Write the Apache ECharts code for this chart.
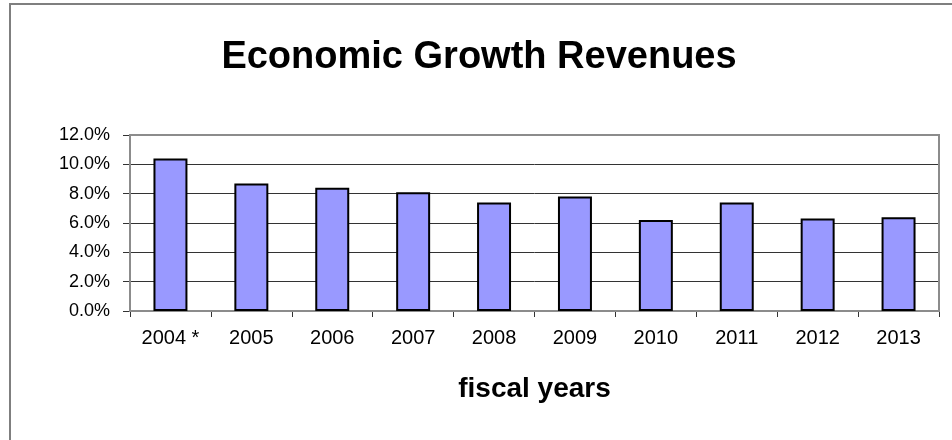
<!DOCTYPE html>
<html>
<head>
<meta charset="utf-8">
<script src="https://cdn.jsdelivr.net/npm/echarts@6/dist/echarts.min.js"></script>
<style>
  html, body { margin: 0; padding: 0; background: #fff; }
  #chart { width: 952px; height: 440px; }
</style>
</head>
<body>
<div id="chart"></div>
<script>
// Fiscal years on the category axis
const years = ['2004 *', '2005', '2006', '2007', '2008', '2009', '2010', '2011', '2012', '2013'];
// Growth rate of revenues, in percent
const growth = [10.4, 8.7, 8.4, 8.1, 7.4, 7.8, 6.2, 7.4, 6.3, 6.4];
// Value axis range and step, in percent
const yMin = 0;
const yMax = 12;
const yStep = 2;

const FONT = '"Liberation Sans", Arial, sans-serif';

const chart = echarts.init(document.getElementById('chart'), null, { renderer: 'canvas' });

chart.setOption({
  animation: false,
  backgroundColor: '#ffffff',
  title: {
    text: 'Economic Growth Revenues',
    left: 474,
    textAlign: 'center',
    top: 34,
    textStyle: { fontFamily: FONT, fontSize: 38, fontWeight: 'bold', color: '#000' }
  },
  graphic: [
    {
      type: 'rect',
      shape: { x: 10, y: 4, width: 1000, height: 500 },
      style: { fill: 'none', stroke: '#7f7f7f', lineWidth: 2 },
      silent: true,
      z: 0
    },
    {
      type: 'rect',
      shape: { x: 130, y: 135, width: 809, height: 176 },
      style: { fill: 'none', stroke: '#8c8c8c', lineWidth: 2 },
      silent: true,
      z: 1
    }
  ],
  grid: {
    left: 130,
    right: 13,
    top: 135,
    height: 176,
    containLabel: false
  },
  xAxis: {
    type: 'category',
    data: years,
    name: 'fiscal years',
    nameLocation: 'middle',
    nameGap: 64,
    nameTextStyle: { fontFamily: FONT, fontSize: 28, fontWeight: 'bold', color: '#000' },
    axisLine: { lineStyle: { color: '#333', width: 1 } },
    axisTick: { show: true, alignWithLabel: false, length: 6, lineStyle: { color: '#333' } },
    axisLabel: { fontFamily: FONT, fontSize: 20, color: '#000', margin: 17 },
    splitLine: { show: false }
  },
  yAxis: {
    type: 'value',
    min: yMin,
    max: yMax,
    interval: yStep,
    axisLine: { show: true, lineStyle: { color: '#333', width: 1 } },
    axisTick: { show: true, inside: false, length: 7, lineStyle: { color: '#333' } },
    axisLabel: {
      fontFamily: FONT, fontSize: 18, color: '#000', margin: 20,
      formatter: v => v.toFixed(1) + '%'
    },
    splitLine: { show: true, lineStyle: { color: '#333', width: 1 } }
  },
  series: [{
    type: 'bar',
    data: growth,
    barWidth: '42%',
    itemStyle: { color: '#9999ff', borderColor: '#000', borderWidth: 2 },
    z: 3
  }]
});
</script>
</body>
</html>
